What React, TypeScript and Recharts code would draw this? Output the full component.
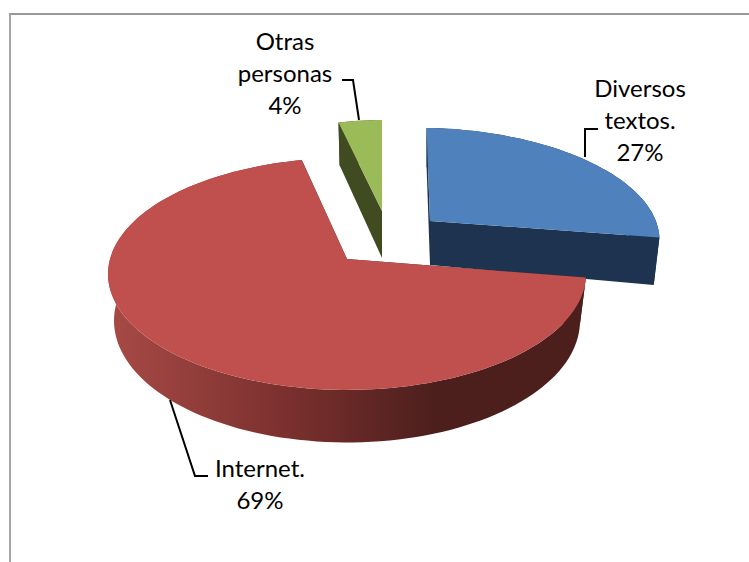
import { PieChart, Pie } from 'recharts'

const categories = ['Diversos textos.', 'Internet.', 'Otras personas']
const shares = [27, 69, 4]
const percentLabels = ['27%', '69%', '4%']

const data = categories.map((name, i) => ({ name, value: shares[i] }))

const PIE_X = 347
const PIE_Y = 259
const RADIUS = 237
const RY_RATIO = 114 / 237
const PERSPECTIVE = 0.129

// where each exploded slice sits, relative to the pie centre
const sliceStyles = [
  { dx: 83, dy: -38, scale: 0.96, ryScale: 0.96, tilt: 5, depth: 44, turn: -1, top: '#4f81bd', wall: '#1d3350' },
  { dx: 0, dy: 0, scale: 1, ryScale: 1, tilt: 0, depth: 46, turn: 2, top: '#bf504d', wall: 'url(#redWall)' },
  { dx: 35, dy: -48, scale: 0.83, ryScale: 1.085, tilt: 0, depth: 47, turn: 0, top: '#9bbb59', wall: '#404b22' }
]

const labelStyles = [
  { x: 640, y: 97, lines: ['Diversos', 'textos.'], leader: '598,129 585,129 585,157' },
  { x: 260, y: 477, lines: ['Internet.'], leader: '208,476 195,476 170,400' },
  { x: 285, y: 50, lines: ['Otras', 'personas'], leader: '342,80 353,80 359,120' }
]

const LINE_GAP = 32

function project(cx: number, cy: number, r: number, ry: number, tilt: number, deg: number) {
  const t = (deg * Math.PI) / 180
  const u = Math.sin(t)
  const v = Math.cos(t)
  const w = 1 + PERSPECTIVE * v
  return [cx + (r * u) / w, cy - (ry * v) / w + tilt * u]
}

function arc(cx: number, cy: number, r: number, ry: number, tilt: number, from: number, to: number) {
  const pts: number[][] = []
  const steps = Math.max(2, Math.ceil(Math.abs(to - from) / 2))
  for (let i = 0; i <= steps; i++) {
    pts.push(project(cx, cy, r, ry, tilt, from + ((to - from) * i) / steps))
  }
  return pts
}

const toPath = (pts: number[][]) =>
  'M' + pts.map(p => `${p[0].toFixed(1)},${p[1].toFixed(1)}`).join('L') + 'Z'

function Slice3D(props: any) {
  const { cx, cy, outerRadius, startAngle, endAngle, index } = props
  const s = sliceStyles[index]
  const from = 90 - startAngle + s.turn
  const to = 90 - endAngle + s.turn
  const ax = cx + s.dx
  const ay = cy + s.dy
  const r = outerRadius * s.scale
  const ry = r * RY_RATIO * s.ryScale
  const br = r * 0.975
  const bry = ry * 1.05
  const by = ay + s.depth

  const topArc = arc(ax, ay, r, ry, s.tilt, from, to)
  const bottomArc = arc(ax, by, br, bry, s.tilt * 1.6, from, to)
  const outerWall = [...topArc, ...[...bottomArc].reverse()]
  const apexTop = [ax, ay]
  const apexBottom = [ax, by]
  const startWall = [apexTop, topArc[0], bottomArc[0], apexBottom]
  const endWall = [
    apexTop,
    topArc[topArc.length - 1],
    bottomArc[bottomArc.length - 1],
    apexBottom
  ]

  return (
    <g>
      <defs>
        <linearGradient id="redWall" gradientUnits="userSpaceOnUse" x1="108" y1="0" x2="435" y2="0">
          <stop offset="0%" stopColor="#a84a46" />
          <stop offset="55%" stopColor="#7a302e" />
          <stop offset="100%" stopColor="#4c1f1d" />
        </linearGradient>
      </defs>
      <path d={toPath(startWall)} fill={index === 1 ? '#4c1f1d' : s.wall} />
      <path d={toPath(endWall)} fill={index === 1 ? '#4c1f1d' : s.wall} />
      <path d={toPath(outerWall)} fill={s.wall} />
      <path d={toPath([apexTop, ...topArc])} fill={s.top} />
    </g>
  )
}

function SliceLabel(props: any) {
  const { index } = props
  const l = labelStyles[index]
  return (
    <g>
      <polyline points={l.leader} fill="none" stroke="#000" strokeWidth={2} />
      <text
        x={l.x}
        y={l.y}
        textAnchor="middle"
        fontFamily="Lato, sans-serif"
        fontSize={24}
        fill="#000"
      >
        {[...l.lines, percentLabels[index]].map((line, i) => (
          <tspan key={line} x={l.x} dy={i === 0 ? 0 : LINE_GAP}>
            {line}
          </tspan>
        ))}
      </text>
    </g>
  )
}

export default function App() {
  return (
    <div style={{ position: 'absolute', left: 0, top: 0, width: 749, height: 562, background: '#fff' }}>
      <div
        style={{
          position: 'absolute',
          left: 9,
          top: 13,
          width: 740,
          height: 549,
          borderLeft: '2px solid #a6a6a6',
          borderTop: '2px solid #999',
          boxSizing: 'border-box'
        }}
      />
      <PieChart
        width={749}
        height={562}
        margin={{ top: 0, right: 0, bottom: 0, left: 0 }}
        style={{ position: 'absolute', left: 0, top: 0 }}
      >
        <Pie
          data={data}
          dataKey="value"
          nameKey="name"
          cx={PIE_X}
          cy={PIE_Y}
          outerRadius={RADIUS}
          startAngle={90}
          endAngle={-270}
          stroke="none"
          shape={Slice3D}
          label={SliceLabel}
          labelLine={false}
          isAnimationActive={false}
        />
      </PieChart>
    </div>
  )
}
